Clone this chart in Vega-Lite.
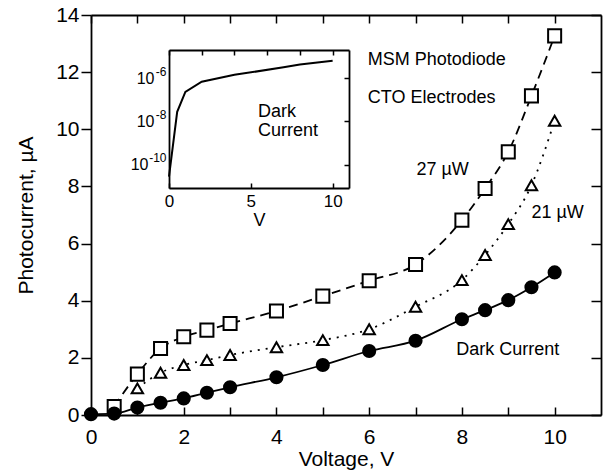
{
  "$schema": "https://vega.github.io/schema/vega-lite/v6.json",
  "width": 510,
  "height": 400,
  "autosize": {"type": "none"},
  "padding": {"left": 91, "top": 15, "right": 2, "bottom": 61},
  "background": "white",
  "config": {
    "font": "Liberation Sans",
    "view": {"stroke": null},
    "axis": {"grid": false, "labelFlush": false, "domainColor": "black", "domainWidth": 1.8, "tickColor": "black", "tickWidth": 1.5, "labelColor": "black", "titleColor": "black", "titleFontWeight": "normal", "labelFont": "Liberation Sans", "titleFont": "Liberation Sans"},
    "text": {"font": "Liberation Sans", "color": "black"}
  },
  "datasets": {
    "p27": [
      {"V": 0.5, "I": 0.30}, {"V": 1, "I": 1.43}, {"V": 1.5, "I": 2.33}, {"V": 2, "I": 2.74}, {"V": 2.5, "I": 2.97},
      {"V": 3, "I": 3.2}, {"V": 4, "I": 3.64}, {"V": 5, "I": 4.16}, {"V": 6, "I": 4.70}, {"V": 7, "I": 5.27},
      {"V": 8, "I": 6.82}, {"V": 8.5, "I": 7.93}, {"V": 9, "I": 9.21}, {"V": 9.5, "I": 11.17}, {"V": 10, "I": 13.27}
    ],
    "p21": [
      {"V": 1, "I": 0.93}, {"V": 1.5, "I": 1.48}, {"V": 2, "I": 1.75}, {"V": 2.5, "I": 1.92}, {"V": 3, "I": 2.1},
      {"V": 4, "I": 2.37}, {"V": 5, "I": 2.62}, {"V": 6, "I": 3.0}, {"V": 7, "I": 3.79}, {"V": 8, "I": 4.72},
      {"V": 8.5, "I": 5.6}, {"V": 9, "I": 6.68}, {"V": 9.5, "I": 8.04}, {"V": 10, "I": 10.3}
    ],
    "dark": [
      {"V": 0, "I": 0.03}, {"V": 0.5, "I": 0.05}, {"V": 1, "I": 0.26}, {"V": 1.5, "I": 0.43}, {"V": 2, "I": 0.58},
      {"V": 2.5, "I": 0.78}, {"V": 3, "I": 0.97}, {"V": 4, "I": 1.32}, {"V": 5, "I": 1.75}, {"V": 6, "I": 2.24},
      {"V": 7, "I": 2.6}, {"V": 8, "I": 3.35}, {"V": 8.5, "I": 3.67}, {"V": 9, "I": 4.02}, {"V": 9.5, "I": 4.47}, {"V": 10, "I": 4.99}
    ],
    "notes": [
      {"V": 5.97, "I": 12.43, "t": "MSM Photodiode"},
      {"V": 5.97, "I": 11.1, "t": "CTO Electrodes"},
      {"V": 7.02, "I": 8.58, "t": "27 µW"},
      {"V": 9.5, "I": 7.07, "t": "21 µW"},
      {"V": 7.88, "I": 2.28, "t": "Dark Current"}
    ],
    "inset": [
      {"V": 0, "A": 2.9e-11}, {"V": 0.5, "A": 2.8e-8}, {"V": 1, "A": 2.3e-7}, {"V": 2, "A": 6.8e-7},
      {"V": 4, "A": 1.4e-6}, {"V": 7, "A": 3.1e-6}, {"V": 8, "A": 4.2e-6}, {"V": 10, "A": 6.3e-6}
    ],
    "insetNotes": [
      {"V": 5.44, "A": 2.74e-8, "t": "Dark"},
      {"V": 5.44, "A": 3.66e-9, "t": "Current"}
    ]
  },
  "layer": [
    {
      "layer": [
        {
          "data": {"name": "p27"},
          "mark": {"type": "line", "interpolate": "monotone", "color": "black", "strokeWidth": 1.8, "strokeDash": [9, 6]},
          "encoding": {
            "x": {"field": "V", "type": "quantitative", "scale": {"domain": [0, 11], "nice": false},
              "axis": {"orient": "bottom", "values": [0, 1, 2, 3, 4, 5, 6, 7, 8, 9, 10], "tickSize": -8, "labelExpr": "datum.value % 2 === 0 ? datum.label : ''", "labelFontSize": 21, "labelPadding": 19, "title": "Voltage, V", "titleFontSize": 21, "titlePadding": 1}},
            "y": {"field": "I", "type": "quantitative", "scale": {"domain": [0, 14], "nice": false},
              "axis": {"orient": "left", "values": [0, 2, 4, 6, 8, 10, 12, 14], "tickSize": 10, "labelFontSize": 21, "labelPadding": 2, "title": "Photocurrent, µA", "titleFontSize": 21, "titlePadding": 19}}
          }
        },
        {
          "data": {"name": "p21"},
          "mark": {"type": "line", "interpolate": "monotone", "color": "black", "strokeWidth": 1.8, "strokeDash": [2, 6]},
          "encoding": {
            "x": {"field": "V", "type": "quantitative", "scale": {"domain": [0, 11], "nice": false}, "axis": null},
            "y": {"field": "I", "type": "quantitative", "scale": {"domain": [0, 14], "nice": false}, "axis": null}
          }
        },
        {
          "data": {"name": "dark"},
          "mark": {"type": "line", "interpolate": "monotone", "color": "black", "strokeWidth": 1.8},
          "encoding": {
            "x": {"field": "V", "type": "quantitative", "scale": {"domain": [0, 11], "nice": false}, "axis": null},
            "y": {"field": "I", "type": "quantitative", "scale": {"domain": [0, 14], "nice": false}, "axis": null}
          }
        },
        {
          "data": {"name": "p27"},
          "mark": {"type": "point", "shape": "square", "size": 170, "filled": false, "fill": "white", "fillOpacity": 1, "stroke": "black", "strokeWidth": 2, "opacity": 1},
          "encoding": {
            "x": {"field": "V", "type": "quantitative", "scale": {"domain": [0, 11], "nice": false}, "axis": null},
            "y": {"field": "I", "type": "quantitative", "scale": {"domain": [0, 14], "nice": false}, "axis": null}
          }
        },
        {
          "data": {"name": "p21"},
          "mark": {"type": "point", "shape": "triangle-up", "size": 130, "filled": false, "fill": "white", "fillOpacity": 1, "stroke": "black", "strokeWidth": 2, "opacity": 1},
          "encoding": {
            "x": {"field": "V", "type": "quantitative", "scale": {"domain": [0, 11], "nice": false}, "axis": null},
            "y": {"field": "I", "type": "quantitative", "scale": {"domain": [0, 14], "nice": false}, "axis": null}
          }
        },
        {
          "data": {"name": "dark"},
          "mark": {"type": "point", "shape": "circle", "size": 200, "filled": true, "color": "black", "opacity": 1},
          "encoding": {
            "x": {"field": "V", "type": "quantitative", "scale": {"domain": [0, 11], "nice": false}, "axis": null},
            "y": {"field": "I", "type": "quantitative", "scale": {"domain": [0, 14], "nice": false}, "axis": null}
          }
        },
        {
          "data": {"name": "notes"},
          "mark": {"type": "text", "align": "left", "baseline": "middle", "fontSize": 18, "color": "black"},
          "encoding": {
            "x": {"field": "V", "type": "quantitative", "scale": {"domain": [0, 11], "nice": false}, "axis": null},
            "y": {"field": "I", "type": "quantitative", "scale": {"domain": [0, 14], "nice": false}, "axis": null},
            "text": {"field": "t"}
          }
        },
        {
          "data": {"name": "dark"},
          "mark": {"type": "point", "opacity": 0},
          "encoding": {
            "x": {"field": "V", "type": "quantitative", "scale": {"domain": [0, 11], "nice": false},
              "axis": {"orient": "top", "values": [0, 1, 2, 3, 4, 5, 6, 7, 8, 9, 10], "tickSize": -8, "labels": false, "title": null}},
            "y": {"field": "I", "type": "quantitative", "scale": {"domain": [0, 14], "nice": false},
              "axis": {"orient": "right", "values": [0, 2, 4, 6, 8, 10, 12, 14], "tickSize": -10, "labels": false, "title": null}}
          }
        }
      ],
      "resolve": {"axis": {"x": "independent", "y": "independent"}}
    },
    {
      "layer": [
        {
          "data": {"name": "inset"},
          "mark": {"type": "line", "color": "black", "strokeWidth": 2},
          "encoding": {
            "x": {"field": "V", "type": "quantitative", "scale": {"domain": [0, 11], "nice": false, "range": [78, 258]},
              "axis": {"orient": "bottom", "offset": -227, "values": [0, 5, 10], "tickSize": -5, "labelFontSize": 17, "labelPadding": 10, "title": "V", "titleFontSize": 18, "titlePadding": 2}},
            "y": {"field": "A", "type": "quantitative", "scale": {"type": "log", "domain": [8.7e-12, 1.95e-5], "nice": false, "range": [173, 35]},
              "axis": {"orient": "left", "offset": -78, "values": [1e-10, 1e-8, 1e-6], "tickSize": 0, "labelFontSize": 16,
                "labelPadding": {"condition": {"test": "datum.value < 1e-9", "value": 21}, "value": 15}, "title": null,
                "labelExpr": "'10'"}}
          }
        },
        {
          "data": {"name": "insetNotes"},
          "mark": {"type": "text", "align": "left", "baseline": "middle", "fontSize": 18, "color": "black"},
          "encoding": {
            "x": {"field": "V", "type": "quantitative", "scale": {"domain": [0, 11], "nice": false, "range": [78, 258]}, "axis": null},
            "y": {"field": "A", "type": "quantitative", "scale": {"type": "log", "domain": [8.7e-12, 1.95e-5], "nice": false, "range": [173, 35]}, "axis": null},
            "text": {"field": "t"}
          }
        },
        {
          "data": {"name": "inset"},
          "mark": {"type": "point", "opacity": 0},
          "encoding": {
            "x": {"field": "V", "type": "quantitative", "scale": {"domain": [0, 11], "nice": false, "range": [78, 258]},
              "axis": {"orient": "top", "offset": -35, "values": [0, 2, 4, 6, 8, 10], "tickSize": -5, "labels": false, "title": null}},
            "y": {"field": "A", "type": "quantitative", "scale": {"type": "log", "domain": [8.7e-12, 1.95e-5], "nice": false, "range": [173, 35]},
              "axis": {"orient": "right", "offset": -252, "values": [1e-10, 1e-8, 1e-6], "tickSize": -5, "labels": false, "title": null}}
          }
        },
        {
          "data": {"name": "inset"},
          "mark": {"type": "point", "opacity": 0},
          "encoding": {
            "x": {"field": "V", "type": "quantitative", "scale": {"domain": [0, 11], "nice": false, "range": [78, 258]}, "axis": null},
            "y": {"field": "A", "type": "quantitative", "scale": {"type": "log", "domain": [8.7e-12, 1.95e-5], "nice": false, "range": [173, 35]},
              "axis": {"orient": "left", "offset": -78, "values": [1e-10, 1e-8, 1e-6], "tickSize": 0, "domain": false, "labelFontSize": 12, "labelPadding": 3, "labelOffset": -7, "title": null,
                "labelExpr": "'-' + format(-round(log(datum.value)/LN10), 'd')"}}
          }
        }
      ],
      "resolve": {"axis": {"x": "independent", "y": "independent"}}
    }
  ],
  "resolve": {"scale": {"x": "independent", "y": "independent"}, "axis": {"x": "independent", "y": "independent"}}
}
